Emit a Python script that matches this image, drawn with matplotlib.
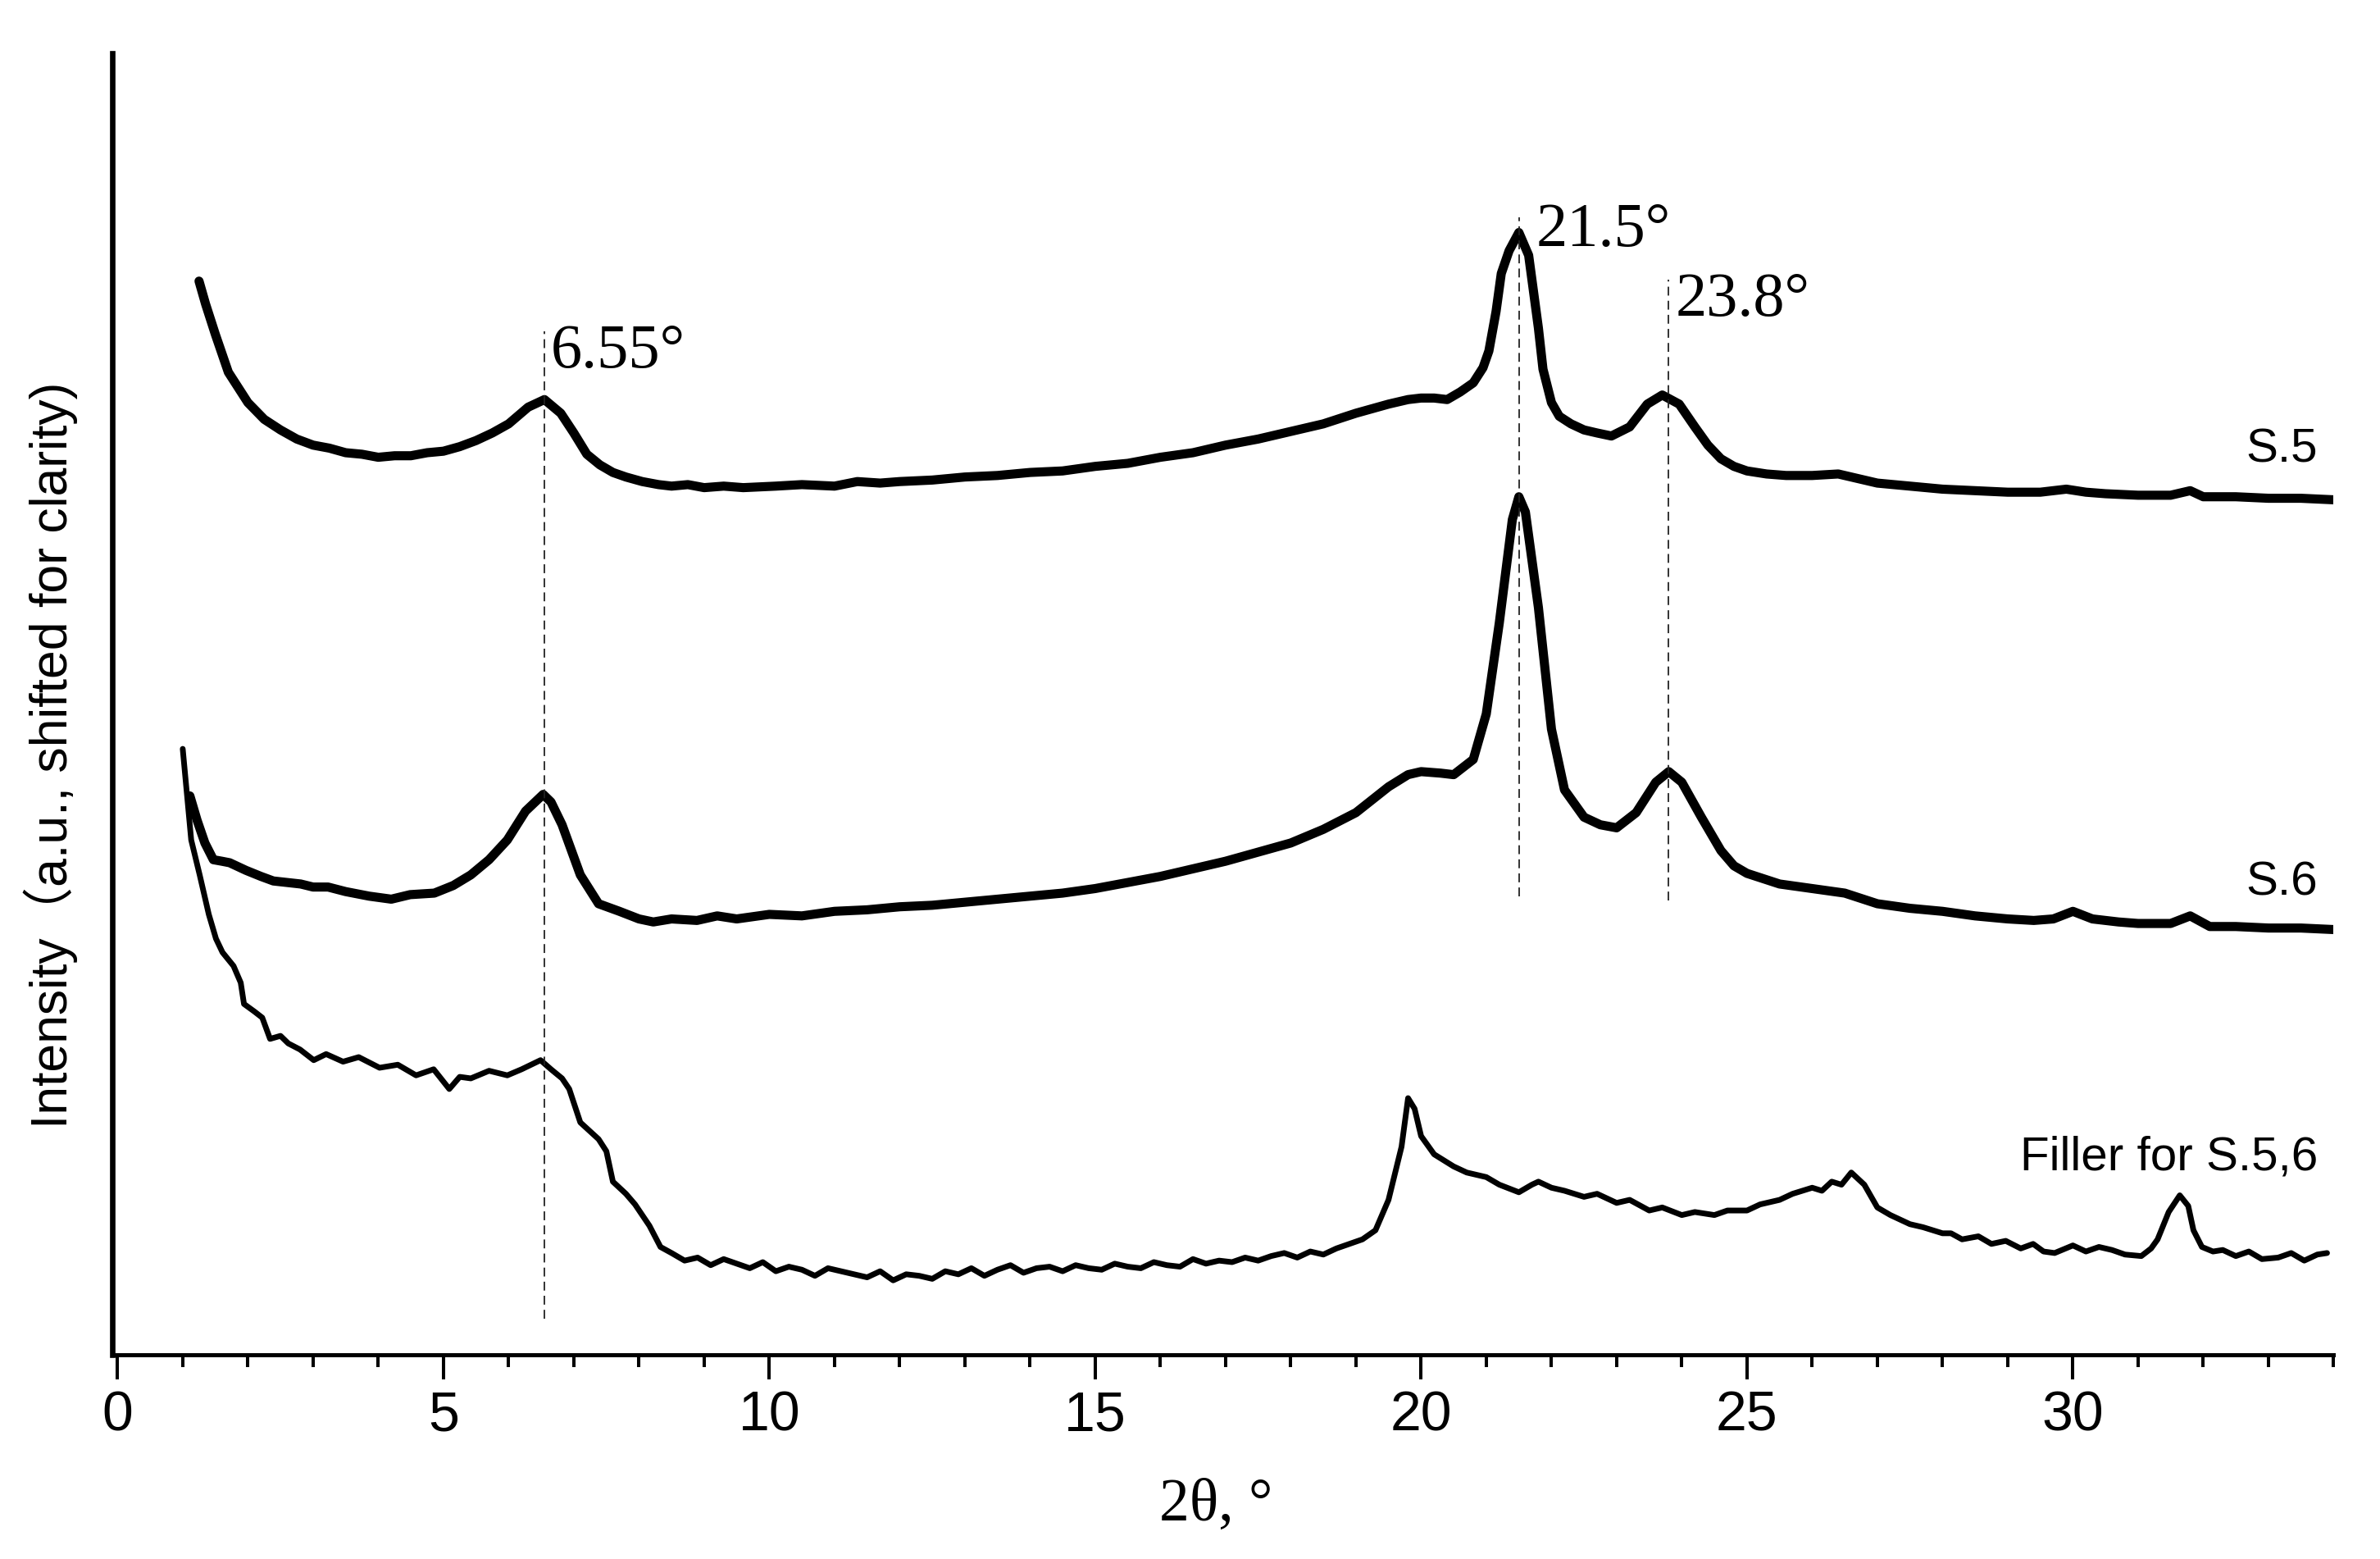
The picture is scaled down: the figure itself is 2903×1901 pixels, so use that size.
import matplotlib
matplotlib.use("Agg")
import matplotlib.pyplot as plt
import numpy as np

# 2theta (deg) and shifted intensity (a.u.)
s5_x = [1.25, 1.35, 1.5, 1.7, 2.0, 2.25, 2.5, 2.75, 3.0, 3.25, 3.5, 3.75, 4.0, 4.25, 4.5, 4.75,
        5.0, 5.25, 5.5, 5.75, 6.0, 6.3, 6.55, 6.8, 7.0, 7.2, 7.4, 7.6, 7.8, 8.05, 8.3, 8.5, 8.75,
        9.0, 9.3, 9.6, 10.1, 10.5, 11.0, 11.35, 11.7, 12.0, 12.5, 13.0, 13.5, 14.0, 14.5, 15.0,
        15.5, 16.0, 16.5, 17.0, 17.5, 18.0, 18.5, 19.0, 19.5, 19.8, 20.0, 20.2, 20.4, 20.6, 20.8,
        20.95, 21.04, 21.15, 21.23, 21.35, 21.5, 21.65, 21.8, 21.87, 22.0, 22.12, 22.3, 22.5,
        22.7, 22.92, 23.2, 23.47, 23.7, 23.96, 24.2, 24.4, 24.6, 24.8, 25.0, 25.3, 25.6, 26.0,
        26.4, 26.7, 27.0, 27.5, 28.0, 28.5, 29.0, 29.5, 29.9, 30.2, 30.5, 31.0, 31.5, 31.8, 32.0,
        32.5, 33.0, 33.5, 34.0]
s5_y = [705, 690, 670, 645, 625, 614, 607, 601, 597, 595, 592, 591, 589, 590, 590, 592,
        593, 596, 600, 605, 611, 622, 627, 618, 605, 591, 584, 579, 576, 573, 571, 570, 571,
        569, 570, 569, 570, 571, 570, 573, 572, 573, 574, 576, 577, 579, 580, 583,
        585, 589, 592, 597, 601, 606, 611, 618, 624, 627, 628, 628, 627, 632, 638,
        648, 659, 685, 710, 725, 737, 722, 674, 647, 625, 616, 611, 607,
        605, 603, 609, 624, 630, 624, 609, 597, 588, 583, 580, 578, 577, 577,
        578, 575, 572, 570, 568, 567, 566, 566, 568, 566, 565, 564, 564, 567, 563,
        563, 562, 562, 561]

s6_x = [1.11, 1.22, 1.34, 1.47, 1.6, 1.72, 1.97, 2.2, 2.39, 2.6, 2.81, 3.0, 3.23, 3.5, 3.86,
        4.2, 4.49, 4.86, 5.15, 5.42, 5.7, 5.98, 6.26, 6.53, 6.65, 6.82, 7.1, 7.38, 7.7, 8.0,
        8.22, 8.5, 8.89, 9.2, 9.5, 10.0, 10.5, 11.0, 11.5, 12.0, 12.5, 13.0, 13.5, 14.0, 14.5,
        15.0, 15.5, 16.0, 16.5, 17.0, 17.5, 18.0, 18.5, 19.0, 19.5, 19.8, 20.0, 20.3, 20.5,
        20.8, 21.0, 21.2, 21.4, 21.5, 21.6, 21.8, 22.0, 22.2, 22.5, 22.75, 23.0, 23.3, 23.6,
        23.8, 24.0, 24.3, 24.6, 24.8, 25.0, 25.5, 26.0, 26.5, 27.0, 27.5, 28.0, 28.5, 29.0,
        29.4, 29.7, 30.0, 30.3, 30.7, 31.0, 31.5, 31.8, 32.1, 32.5, 33.0, 33.5, 34.0]
s6_y = [366, 350, 335, 324, 323, 322, 317, 313, 310, 309, 308, 306, 306, 303, 300,
        298, 301, 302, 307, 314, 324, 337, 356, 367, 362, 347, 314, 295, 290, 285,
        283, 285, 284, 287, 285, 288, 287, 290, 291, 293, 294, 296, 298, 300, 302,
        305, 309, 313, 318, 323, 329, 335, 344, 355, 372, 380, 382, 381, 380,
        390, 420, 480, 548, 563, 553, 490, 410, 370, 352, 347, 345, 355, 375,
        382, 375, 352, 330, 320, 315, 308, 305, 302, 295, 292, 290, 287, 285,
        284, 285, 290, 285, 283, 282, 282, 287, 280, 280, 279, 279, 278]

filler_x = [1.0, 1.13, 1.26, 1.40, 1.51, 1.61, 1.78, 1.89, 1.94, 2.1, 2.22, 2.34, 2.5, 2.62,
            2.8, 3.01, 3.2, 3.46, 3.7, 4.02, 4.3, 4.58, 4.85, 5.09, 5.25, 5.42, 5.7, 5.98,
            6.2, 6.49, 6.65, 6.82, 6.93, 7.1, 7.38, 7.5, 7.6, 7.8, 7.94, 8.16, 8.33, 8.5,
            8.7, 8.9, 9.1, 9.3, 9.5, 9.7, 9.9, 10.1, 10.3, 10.5, 10.7, 10.9, 11.1, 11.3, 11.5,
            11.7, 11.9, 12.1, 12.3, 12.5, 12.7, 12.9, 13.1, 13.3, 13.5, 13.7, 13.9, 14.1, 14.3,
            14.5, 14.7, 14.9, 15.1, 15.3, 15.5, 15.7, 15.9, 16.1, 16.3, 16.5, 16.7, 16.9, 17.1,
            17.3, 17.5, 17.7, 17.9, 18.1, 18.3, 18.5, 18.7, 18.9, 19.1, 19.3, 19.5, 19.7, 19.8,
            19.9, 20.0, 20.2, 20.35, 20.5, 20.7, 21.0, 21.2, 21.5, 21.7, 21.8, 22.0, 22.2, 22.5,
            22.7, 23.0, 23.2, 23.5, 23.7, 24.0, 24.2, 24.5, 24.7, 25.0, 25.2, 25.5, 25.7, 26.0,
            26.15, 26.3, 26.45, 26.6, 26.8, 27.0, 27.2, 27.5, 27.7, 28.0, 28.13, 28.3, 28.55,
            28.75, 28.97, 29.2, 29.39, 29.55, 29.72, 30.0, 30.2, 30.4, 30.6, 30.8, 31.05, 31.2,
            31.3, 31.47, 31.64, 31.77, 31.85, 31.98, 32.15, 32.3, 32.5, 32.7, 32.9, 33.15,
            33.35, 33.55, 33.75, 33.9]
filler_y = [397, 337, 314, 288, 272, 263, 254, 243, 229, 224, 220, 206, 208, 203,
            199, 192, 196, 191, 194, 187, 189, 182, 186, 173, 181, 180, 185, 182,
            186, 192, 186, 180, 173, 151, 140, 132, 112, 104, 97, 83, 69, 65,
            60, 62, 57, 61, 58, 55, 59, 53, 56, 54, 50, 55, 53, 51, 49,
            53, 47, 51, 50, 48, 53, 51, 55, 50, 54, 57, 52, 55, 56,
            53, 57, 55, 54, 58, 56, 55, 59, 57, 56, 61, 58, 60, 59,
            62, 60, 63, 65, 62, 66, 64, 68, 71, 74, 80, 100, 135, 167,
            160, 142, 130, 126, 122, 118, 115, 110, 105, 110, 112, 108, 106, 102,
            104, 98, 100, 93, 95, 90, 92, 90, 93, 93, 97, 100, 104, 108,
            106, 112, 110, 118, 110, 95, 90, 84, 82, 78, 78, 74, 76,
            71, 73, 68, 71, 66, 65, 70, 66, 69, 67, 64, 63, 68,
            74, 92, 103, 96, 80, 69, 66, 67, 63, 66, 61, 62,
            65, 60, 64, 65]

peak_pos = [6.55, 21.5, 23.8]
peak_lines = [(22, 672), (300, 747), (297, 706)]
peak_labels = ["6.55°", "21.5°", "23.8°"]
peak_text_xy = [(6.64, 658), (21.76, 738), (23.9, 692)]

curve_labels = ["S.5", "S.6", "Filler for S.5,6"]
curve_label_y = [594, 309, 128]

fig = plt.figure(figsize=(29.03, 19.01), dpi=100)
ax = fig.add_axes([0.0472, 0.131, 0.9333, 0.8348])

ax.plot(s5_x, s5_y, color="black", lw=8, solid_joinstyle="round", solid_capstyle="round")
ax.plot(s6_x, s6_y, color="black", lw=8, solid_joinstyle="round", solid_capstyle="round")
ax.plot(filler_x, filler_y, color="black", lw=5, solid_joinstyle="round", solid_capstyle="round")

# reference lines at the peak positions
for xp, (y0, y1) in zip(peak_pos, peak_lines):
    ax.plot([xp, xp], [y0, y1], color="#222222", lw=1.3, dashes=(6, 3.5))

for txt, (tx, ty) in zip(peak_labels, peak_text_xy):
    ax.text(tx, ty, txt, fontsize=55, family="Liberation Serif", ha="left", va="center")

for txt, ty in zip(curve_labels, curve_label_y):
    ax.text(33.76, ty, txt, fontsize=42, family="Liberation Sans", ha="right", va="center")

ax.set_xlim(-0.08, 34.0)
ax.set_ylim(-2, 855)

ax.spines["top"].set_visible(False)
ax.spines["right"].set_visible(False)
ax.spines["left"].set_linewidth(4.8)
ax.spines["bottom"].set_linewidth(3.6)

ax.set_xticks(np.arange(0, 31, 5))
ax.set_xticks(np.arange(0, 35, 1), minor=True)
ax.set_yticks([])
ax.tick_params(axis="x", which="major", direction="out", length=21.6, width=2.9, pad=9, labelsize=49)
ax.tick_params(axis="x", which="minor", direction="out", length=10.8, width=2.9)
for lab in ax.get_xticklabels():
    lab.set_family("Liberation Sans")

ax.set_xlabel("2θ, °", fontsize=53, family="Liberation Serif")
ax.xaxis.set_label_coords(0.497, -0.095)

fig.text(0.0214, 0.5155, "Intensity（a.u., shifted for clarity)", rotation=90, fontsize=45,
         family=["Liberation Sans", "Noto Sans CJK SC"], ha="center", va="center")

fig.savefig("out.png", dpi=100)
